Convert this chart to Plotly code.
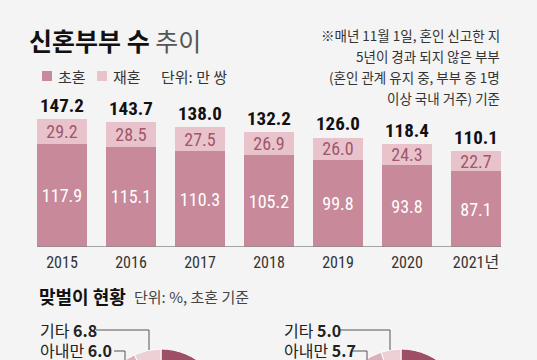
import plotly.graph_objects as go

# ---------------- data ----------------
years = ['2015', '2016', '2017', '2018', '2019', '2020', '2021년']
first_marriage = [117.9, 115.1, 110.3, 105.2, 99.8, 93.8, 87.1]
remarriage = [29.2, 28.5, 27.5, 26.9, 26.0, 24.3, 22.7]
totals = [147.2, 143.7, 138.0, 132.2, 126.0, 118.4, 110.1]

pie_labels = ['맞벌이', '남편만', '아내만', '기타']
pie_left = [51.2, 36.0, 6.0, 6.8]
pie_right = [54.9, 34.4, 5.7, 5.0]

note_lines = ['※매년 11월 1일, 혼인 신고한 지', '5년이 경과 되지 않은 부부',
              '(혼인 관계 유지 중, 부부 중 1명', '이상 국내 거주) 기준']

# ---------------- style ----------------
W, H = 537, 480
BG = '#f4f4f4'
C_FIRST = '#c8899a'
C_RE = '#e8c3cc'
C_RE_TXT = '#a1566b'
PIE_COLORS = ['#9d4f63', '#c8899a', '#dcb0bc', '#ebd0d6']
KR = 'Noto Sans CJK KR'
NUM = 'Liberation Sans Narrow, Roboto Condensed, ' + KR


def px(x):
    return x / W


def py(y):
    return 1 - y / H


xpos = list(range(len(years)))

fig = go.Figure()

fig.add_trace(go.Bar(
    x=xpos, y=first_marriage, name='초혼', marker_color=C_FIRST,
    text=[f'{v:.1f}' for v in first_marriage], textposition='inside',
    insidetextanchor='middle', textangle=0, constraintext='none',
    textfont=dict(color='white', size=18, family=NUM),
    hoverinfo='skip', marker_line_width=0))
fig.add_trace(go.Bar(
    x=xpos, y=remarriage, name='재혼', marker_color=C_RE,
    text=[f'{v:.1f}' for v in remarriage], textposition='inside',
    insidetextanchor='middle', textangle=0, constraintext='none',
    textfont=dict(color=C_RE_TXT, size=18, family=NUM),
    hoverinfo='skip', marker_line_width=0))

for xi, t in zip(xpos, totals):
    fig.add_annotation(x=xi, y=t, text=f'<b>{t:.1f}</b>', showarrow=False,
                       yanchor='bottom', yshift=0, xref='x', yref='y',
                       font=dict(size=19, color='#111', family=NUM))

# baseline
fig.add_shape(type='line', xref='x', yref='y', x0=-0.3625, x1=6.3625, y0=0, y1=0,
              line=dict(color='#8a8a8a', width=1.5))

# pies
for vals, cx in ((pie_left, 161), (pie_right, 401)):
    r = 64
    top = 349
    fig.add_trace(go.Pie(
        labels=pie_labels, values=vals, sort=False, direction='clockwise',
        rotation=0, textinfo='none', hoverinfo='skip', showlegend=False,
        marker=dict(colors=PIE_COLORS, line=dict(color='white', width=1)),
        domain=dict(x=[px(cx - r), px(cx + r)], y=[py(top + 2 * r), py(top)])))

# title
fig.add_annotation(x=px(27), y=py(40), xref='paper', yref='paper', xanchor='left',
                   yanchor='middle', showarrow=False,
                   text='<b>신혼부부 수</b> <span style="color:#555">추이</span>',
                   font=dict(size=25, color='#111', family=KR))

# legend
for x0, col, lab in ((42, C_FIRST, '초혼'), (97, C_RE, '재혼')):
    fig.add_shape(type='rect', xref='paper', yref='paper', x0=px(x0), x1=px(x0 + 10),
                  y0=py(81), y1=py(71), fillcolor=col, line_width=0)
    fig.add_annotation(x=px(x0 + 14), y=py(76), xref='paper', yref='paper',
                       xanchor='left', yanchor='middle', showarrow=False, text=lab,
                       font=dict(size=15, color='#333', family=KR))
fig.add_annotation(x=px(159), y=py(76), xref='paper', yref='paper', xanchor='left',
                   yanchor='middle', showarrow=False, text='단위: 만 쌍',
                   font=dict(size=15, color='#333', family=KR))

# note
for i, line in enumerate(note_lines):
    fig.add_annotation(x=px(502), y=py(35 + 21 * i), xref='paper', yref='paper',
                       xanchor='right', yanchor='middle', showarrow=False, text=line,
                       font=dict(size=13.5, color='#333', family=KR))

# sub title
fig.add_annotation(x=px(37), y=py(296), xref='paper', yref='paper', xanchor='left',
                   yanchor='middle', showarrow=False, text='<b>맞벌이 현황</b>',
                   font=dict(size=18, color='#111', family=KR))
fig.add_annotation(x=px(132), y=py(296), xref='paper', yref='paper', xanchor='left',
                   yanchor='middle', showarrow=False, text='단위: %, 초혼 기준',
                   font=dict(size=15, color='#444', family=KR))

# pie labels + leader lines
LINE = dict(color='#555', width=1)
for x_text, vals, l1, l2 in ((38, pie_left, (96, 149), (114, 125)),
                             (282, pie_right, (340, 390), (351, 367))):
    fig.add_annotation(x=px(x_text), y=py(330), xref='paper', yref='paper',
                       xanchor='left', yanchor='middle', showarrow=False,
                       text=f'기타 <b>{vals[3]:.1f}</b>',
                       font=dict(size=16, color='#222', family=KR))
    fig.add_annotation(x=px(x_text), y=py(350), xref='paper', yref='paper',
                       xanchor='left', yanchor='middle', showarrow=False,
                       text=f'아내만 <b>{vals[2]:.1f}</b>',
                       font=dict(size=16, color='#222', family=KR))
    fig.add_shape(type='path', xref='paper', yref='paper',
                  path=f'M{px(l1[0])},{py(330)} L{px(l1[1])},{py(330)} L{px(l1[1])},{py(350)}',
                  line=LINE)
    fig.add_shape(type='path', xref='paper', yref='paper',
                  path=f'M{px(l2[0])},{py(351)} L{px(l2[1])},{py(351)} L{px(l2[1])},{py(362)}',
                  line=LINE)

fig.update_layout(
    width=W, height=H, margin=dict(l=0, r=0, t=0, b=0),
    paper_bgcolor=BG, plot_bgcolor=BG, barmode='stack', bargap=0.275,
    showlegend=False,
    font=dict(family=KR, color='#333'),
    xaxis=dict(domain=[px(27.5), px(510.5)], range=[-0.5, 6.5], showgrid=False,
               zeroline=False, showline=False, ticks='', tickmode='array',
               tickvals=xpos, ticktext=years, ticklabelstandoff=4,
               tickfont=dict(size=16, color='#333', family=NUM), fixedrange=True),
    yaxis=dict(domain=[py(247), py(100)], range=[0, 147 / 0.87], visible=False,
               fixedrange=True),
)

fig.write_html('out.html', config={'displayModeBar': False},
               post_script="document.body.style.margin='0';"
                           "document.body.style.overflow='hidden';"
                           "document.documentElement.style.overflow='hidden';")
